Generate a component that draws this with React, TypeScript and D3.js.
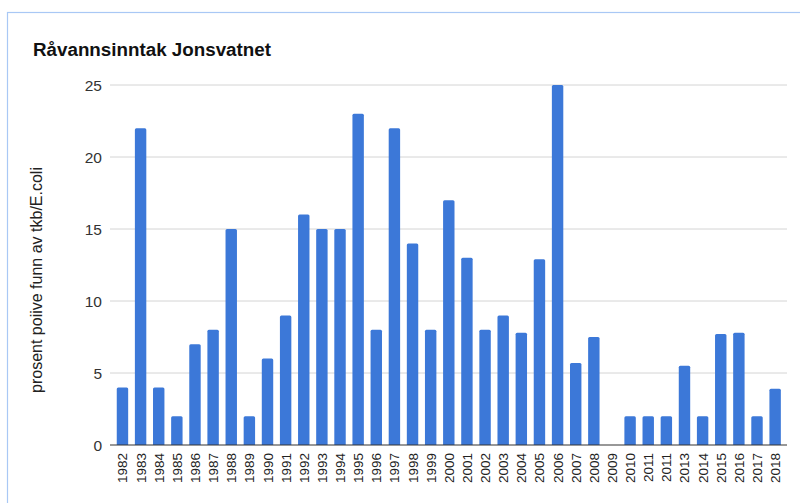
import React from "react";
import * as d3 from "d3";

const years = ["1982","1983","1984","1985","1986","1987","1988","1989","1990","1991","1992","1993","1994","1995","1996","1997","1998","1999","2000","2001","2002","2003","2004","2005","2006","2007","2008","2009","2010","2011","2011","2013","2014","2015","2016","2017","2018"];
const values = [4,22,4,2,7,8,15,2,6,9,16,15,15,23,8,22,14,8,17,13,8,9,7.8,12.9,25,5.7,7.5,0,2,2,2,5.5,2,7.7,7.8,2,3.9];
const yTicks = [0,5,10,15,20,25];
const title = "Råvannsinntak Jonsvatnet";
const yTitle = "prosent poiive funn av tkb/E.coli";

const W = 800, H = 503;
const plotLeft = 113.4, plotRight = 784.2, plotTop = 85, plotBottom = 445;
const font = "Arial, 'Liberation Sans', sans-serif";

export default function App() {
  const idx = years.map((_, i) => i);
  const x = d3.scaleBand<number>().domain(idx).range([plotLeft, plotRight]).paddingInner(0.37).paddingOuter(0.185);
  const y = d3.scaleLinear().domain([0, 25]).range([plotBottom, plotTop]);
  const r = 1.5;
  const barPath = (i: number) => {
    const x0 = x(i)!, w = x.bandwidth(), y0 = y(values[i]), yb = y(0);
    if (values[i] <= 0) return "";
    const p = d3.path();
    p.moveTo(x0, yb);
    p.lineTo(x0, y0 + r);
    p.quadraticCurveTo(x0, y0, x0 + r, y0);
    p.lineTo(x0 + w - r, y0);
    p.quadraticCurveTo(x0 + w, y0, x0 + w, y0 + r);
    p.lineTo(x0 + w, yb);
    p.closePath();
    return p.toString();
  };
  return (
    <svg width={W} height={H} style={{ position: "absolute", left: 0, top: 0 }}>
      <rect x={0} y={0} width={W} height={H} fill="#fff" />
      <rect x={7.5} y={12.5} width={W} height={H} fill="#fff" stroke="#a9c8f5" strokeWidth={1.2} />
      <text x={33} y={56} fontFamily={font} fontWeight="bold" fontSize={18.8} fill="#111">{title}</text>
      {yTicks.map(t => (
        <g key={t}>
          {t > 0 && <line x1={110} x2={787} y1={y(t)} y2={y(t)} stroke="#d4d4d4" strokeWidth={1} />}
          <text x={102} y={y(t) + 5.5} textAnchor="end" fontFamily={font} fontSize={15.5} fill="#333">{t}</text>
        </g>
      ))}
      {idx.map(i => (
        <path key={i} d={barPath(i)} fill="#3c78d8" />
      ))}
      <line x1={110} x2={787} y1={y(0)} y2={y(0)} stroke="#333" strokeWidth={1.2} />
      {idx.map(i => {
        const cx = x(i)! + x.bandwidth() / 2;
        return (
          <text key={i} transform={`translate(${cx + 5},${453}) rotate(-90)`} textAnchor="end" fontFamily={font} fontSize={13.5} fill="#222">{years[i]}</text>
        );
      })}
      <text transform={`translate(${42},${280}) rotate(-90)`} textAnchor="middle" fontFamily={font} fontSize={16} fill="#222">{yTitle}</text>
    </svg>
  );
}
